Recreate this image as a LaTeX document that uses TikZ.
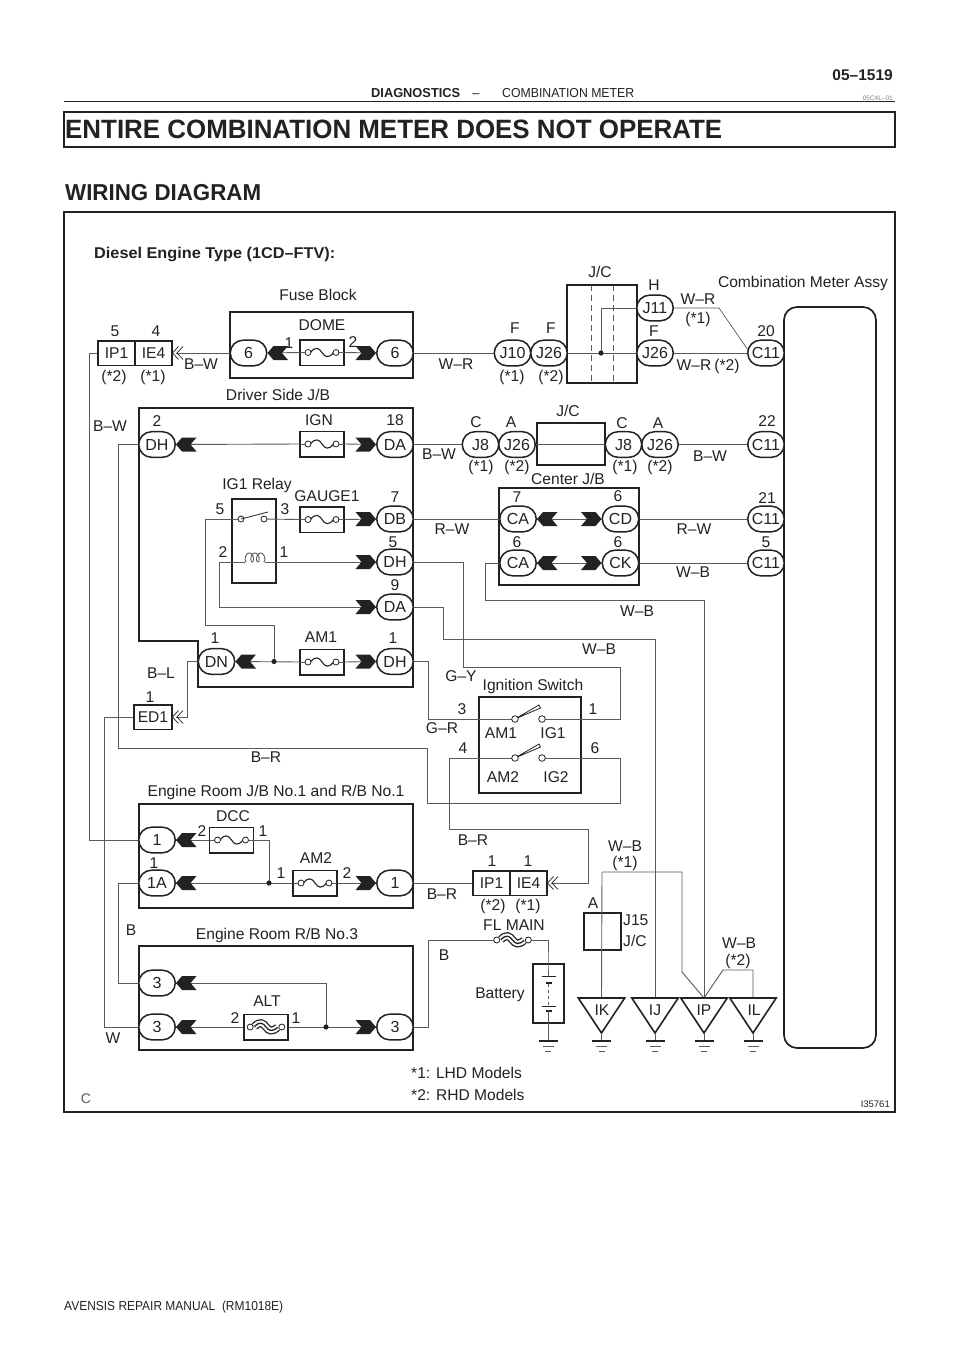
\documentclass[tikz,border=0pt]{standalone}
\usepackage{fontspec}
\setmainfont{Liberation Sans}
\definecolor{ink}{HTML}{222222}
\definecolor{wirec}{HTML}{5A5A5A}
\tikzset{
  x=1pt,y=-1pt,
  lbl/.style={inner sep=0pt,text=ink,font=\fontsize{15.6}{17}\selectfont,text height=11.3pt,text depth=0pt,anchor=center},
  lft/.style={lbl,anchor=west},
  oval/.style={draw=ink,fill=white,line width=1.5pt,rounded corners=12.8pt,minimum width=36.5pt,minimum height=25.6pt,inner sep=0pt,text=ink,font=\fontsize{16}{17}\selectfont,text height=11.5pt,text depth=0pt},
  blk/.style={draw=ink,line width=1.6pt,inner sep=0pt,fill=none},
  tag/.style={draw=ink,fill=white,line width=1.5pt,inner sep=0pt,minimum height=24.5pt,text=ink,font=\fontsize{15.6}{17}\selectfont,text height=11.3pt,text depth=0pt},
  fusebox/.style={draw=ink,fill=white,line width=1.5pt,inner sep=0pt,minimum width=44pt,minimum height=25.5pt},
  wire/.style={draw=wirec,line width=0.9pt,line join=miter},
  sym/.style={draw=ink,line width=0.8pt},
  fusesym/.pic={
    \draw[wire] (-22,0) -- (-14,0) (14,0) -- (22,0);
    \draw[draw=ink,line width=1.1pt] (-11.5,0) .. controls (-7,-6) and (-3,-5) .. (0,0) .. controls (3,5) and (7,6) .. (11.5,0);
    \draw[sym,fill=white] (-14,0) circle (3pt) (14,0) circle (3pt);
  },
  heavyfuse/.pic={
    \foreach \w/\c in {8/ink,5.4/white,1.3/ink}
      \draw[draw=\c,line width=\w pt] (-11.5,-0.5) .. controls (-6,-6) and (-3,-4) .. (0,0) .. controls (3,4) and (6,5) .. (11.5,0.5);
    \draw[sym,fill=white] (-15.8,0) circle (3pt) (15.8,0) circle (3pt);
  },
  tol/.pic={\fill[ink] (0,0) -- (6,-7) -- (20.5,-7) -- (14.5,0) -- (20.5,7) -- (6,7) -- cycle;},
  tor/.pic={\fill[ink] (0,0) -- (-6,-7) -- (-20.5,-7) -- (-14.5,0) -- (-20.5,7) -- (-6,7) -- cycle;},
  chev/.pic={\draw[sym,line width=0.7pt] (6,-6.5) -- (0,0) -- (6,6.5) (10.5,-6.5) -- (4.5,0) -- (10.5,6.5);},
  gndsym/.pic={
    \draw[draw=ink,line width=1.2pt] (-9.5,0) -- (9.5,0);
    \draw[wirec,line width=0.8pt] (-5.5,5) -- (5.5,5) (-3,10) -- (3,10);
  },
  gndtri/.pic={
    \draw[blk,line join=miter] (-23.2,0) -- (23.2,0) -- (0,35) -- cycle;
    \draw[wire] (0,35) -- (0,43);
    \pic at (0,43) {gndsym};
  },
  blade/.pic={\draw[sym,fill=white,line join=round] (0,0) -- (24,-14) -- (25.5,-11) -- cycle;},
}
\begin{document}
\begin{tikzpicture}
\useasboundingbox (0,0) rectangle (960,1358);
\fill[white] (0,0) rectangle (960,1358);

% page furniture
\node[lbl,anchor=east,font=\bfseries\fontsize{15.5}{17}\selectfont] (pageno) at (893,75) {05–1519};
\node[lbl,anchor=west,font=\bfseries\fontsize{13}{15}\selectfont,text height=9.3pt] (sect) at (371,93) {\resizebox{89pt}{\height}{DIAGNOSTICS}};
\node[lbl,font=\fontsize{13}{15}\selectfont,text height=9.3pt] (dash) at (476,93) {–};
\node[lbl,anchor=west,font=\fontsize{13}{15}\selectfont,text height=9.3pt] (subsect) at (502,93) {\resizebox{132pt}{\height}{COMBINATION METER}};
\node[lbl,anchor=east,text=gray,font=\fontsize{6.5}{8}\selectfont,text height=4.7pt] (docid) at (893,98) {05C4L–01};
\draw[draw=ink,line width=1.3pt] (64,101.5) -- (895,101.5);
\node[draw=ink,line width=1.3pt,minimum width=831pt,minimum height=35pt,inner sep=0pt] (titlebox) at (479.5,129.5) {};
\node[lbl,anchor=west,font=\bfseries\fontsize{26.5}{28}\selectfont,text height=19pt] (title) at (65,129) {\resizebox{657pt}{\height}{ENTIRE COMBINATION METER DOES NOT OPERATE}};
\node[lbl,anchor=west,font=\bfseries\fontsize{23}{25}\selectfont,text height=16.6pt] (wd) at (65,192) {\resizebox{196pt}{\height}{WIRING DIAGRAM}};
\node[draw=ink,line width=1.3pt,minimum width=831pt,minimum height=900pt,inner sep=0pt] (frame) at (479.5,662) {};
\node[lbl,anchor=west,font=\fontsize{13}{15}\selectfont,text height=9.3pt] (manual) at (64,1306) {\resizebox{219pt}{\height}{AVENSIS REPAIR MANUAL\ \ (RM1018E)}};
\node[lbl,anchor=west,font=\bfseries\fontsize{15.6}{17}\selectfont] (diesel) at (94,253) {\resizebox{241pt}{\height}{Diesel Engine Type (1CD–FTV):}};

% blocks
\node[blk,minimum width=183pt,minimum height=66pt] (fuseblock) at (321.5,345) {};
\draw[draw=ink,line width=1.6pt] (139,408) -- (413,408) -- (413,687) -- (198,687) -- (198,641) -- (139,641) -- cycle;
\node[blk,minimum width=102pt,minimum height=96pt] (ignsw) at (530,745) {};
\node[blk,minimum width=274pt,minimum height=104pt] (erjb) at (276,856) {};
\node[blk,minimum width=274pt,minimum height=104pt] (errb) at (276,998) {};
\node[blk,minimum width=140pt,minimum height=97pt] (cjb) at (569,536.5) {};
\node[blk,minimum width=70pt,minimum height=98pt] (jc1) at (602,334) {};
\node[blk,minimum width=68pt,minimum height=42pt] (jc2) at (571,444) {};
\node[blk,minimum width=44pt,minimum height=84pt] (relay) at (254,541) {};
\node[blk,minimum width=37pt,minimum height=37pt] (j15) at (602.5,931.5) {};
\node[blk,minimum width=31pt,minimum height=59pt] (batt) at (548.5,993.5) {};
\node[draw=ink,line width=1.7pt,minimum width=92pt,minimum height=741pt,rounded corners=13pt,inner sep=0pt] (meter) at (830,677.5) {};
\draw[wirec,line width=0.8pt,dashed,dash pattern=on 6pt off 4pt] (591,285) -- (591,383) (613,285) -- (613,383);

% connectors
\node[oval] (fb6l) at (248.5,353) {6};
\node[oval] (fb6r) at (395,353) {6};
\node[oval] (j10) at (512.5,353) {J10};
\node[oval] (j26a) at (549,353) {J26};
\node[oval] (j26b) at (655,353) {J26};
\node[oval] (j11) at (655,308) {J11};
\node[oval] (c20) at (766,353) {C11};
\node[oval] (dh2) at (157,444.5) {DH};
\node[oval] (da18) at (395,444.5) {DA};
\node[oval] (j8a) at (480.5,444.5) {J8};
\node[oval] (j26c) at (517,444.5) {J26};
\node[oval] (j8b) at (623.5,444.5) {J8};
\node[oval] (j26d) at (660,444.5) {J26};
\node[oval] (c22) at (766,444.5) {C11};
\node[oval] (db7) at (395,519) {DB};
\node[oval] (ca7) at (518,519) {CA};
\node[oval] (cd6) at (620.5,519) {CD};
\node[oval] (c21) at (766,519) {C11};
\node[oval] (dh5) at (395,562) {DH};
\node[oval] (ca6) at (518,563) {CA};
\node[oval] (ck6) at (620.5,563) {CK};
\node[oval] (c5) at (766,563) {C11};
\node[oval] (da9) at (395,607) {DA};
\node[oval] (dn1) at (216.5,661.5) {DN};
\node[oval] (dh1) at (395,661.5) {DH};
\node[oval] (e1) at (157,840) {1};
\node[oval] (e1a) at (157,883) {1A};
\node[oval] (e1r) at (395,883) {1};
\node[oval] (r3a) at (157,983) {3};
\node[oval] (r3b) at (157,1027) {3};
\node[oval] (r3c) at (395,1027) {3};

% fuses
\node[fusebox] (dome) at (322,352.5) {};
\node[fusebox] (ign) at (322,444) {};
\node[fusebox] (gauge) at (322,519.5) {};
\node[fusebox] (am1f) at (322,662) {};
\node[fusebox] (dcc) at (231.5,840) {};
\node[fusebox] (am2f) at (315,883) {};
\node[fusebox] (alt) at (266,1027) {};
\pic at (dome) {fusesym};
\pic at (ign) {fusesym};
\pic at (gauge) {fusesym};
\pic at (am1f) {fusesym};
\pic at (dcc) {fusesym};
\pic at (am2f) {fusesym};
\pic at (alt) {heavyfuse};
\coordinate (flmain) at (512.5,940);

% tags
\node[tag,minimum width=37pt] (ip1a) at (116.5,353) {IP1};
\node[tag,minimum width=37pt] (ie4a) at (153.5,353) {IE4};
\node[tag,minimum width=38pt] (ed1) at (153,717) {ED1};
\node[tag,minimum width=37pt] (ip1b) at (491.5,883) {IP1};
\node[tag,minimum width=37pt] (ie4b) at (528.5,883) {IE4};

% named free ends
\coordinate (chA) at (176,353);
\coordinate (chB) at (176,717);
\coordinate (chC) at (551,883);
\coordinate (relayNO) at (241,519);
\coordinate (relayNC) at (264,519);
\coordinate (coilL) at (245,562);
\coordinate (coilR) at (265,562);
\coordinate (sw1a) at (515,719);
\coordinate (sw1b) at (542,719);
\coordinate (sw2a) at (515,758);
\coordinate (sw2b) at (542,758);
\coordinate (jdot) at (601,353);
\coordinate (am1dot) at (274,661.5);
\coordinate (dccdot) at (269,883);
\coordinate (altdot) at (326,1027);
\coordinate (flL) at (497,940);
\coordinate (flR) at (528,940);
\coordinate (batTop) at (548,976);
\coordinate (batBot) at (548,1041);
\coordinate (tIK) at (601.5,998);
\coordinate (tIJ) at (655,998);
\coordinate (tIP) at (704,998);
\coordinate (tIL) at (753,998);

% wires
\draw[wire] (fb6l.east) -- (dome.west);
\draw[wire] (dome.east) -- (fb6r.west);
\draw[wire] (fb6l.west) -- (chA);
\draw[wire] (ip1a.west) -- (89,353) -- (89,840) -- (e1.west);
\draw[wire] (fb6r.east) -- (j10.west);
\draw[wire] (j26a.east) -- (j26b.west);
\draw[wire] (jdot) -- (601,308) -- (j11.west);
\draw[wire] (j26b.east) -- (c20.west);
\draw[wire,line width=0.7pt] (j11.east) -- (719,308) -- (748,350);
\draw[wire] (dh2.east) -- (ign.west);
\draw[wire] (ign.east) -- (da18.west);
\draw[wire] (da18.east) -- (j8a.west);
\draw[wire] (j26c.east) -- (j8b.west);
\draw[wire] (j26d.east) -- (c22.west);
\draw[wire] (relayNC) -- (gauge.west);
\draw[wire] (gauge.east) -- (db7.west);
\draw[wire] (db7.east) -- (ca7.west);
\draw[wire] (ca7.east) -- (cd6.west);
\draw[wire] (cd6.east) -- (c21.west);
\draw[wire] (ca6.east) -- (ck6.west);
\draw[wire] (ck6.east) -- (c5.west);
\draw[wire] (relayNO) -- (205,519) -- (205,625) -- (274,625) -- (am1dot);
\draw[wire] (coilR) -- (dh5.west);
\draw[wire] (coilL) -- (219,562) -- (219,607) -- (da9.west);
\draw[wire] (dn1.east) -- (am1f.west);
\draw[wire] (am1f.east) -- (dh1.west);
\draw[wire] (dn1.west) -- (187,661.5) -- (187,717) -- (chB);
\draw[wire] (ed1.west) -- (104,717) -- (104,1027) -- (r3b.west);
\draw[wire] (dh5.east) -- (463.5,562) -- (463.5,667) -- (620,667) -- (620,719) -- (sw1b);
\draw[wire] (dh1.east) -- (428,661.5) -- (428,719) -- (sw1a);
\draw[wire] (da9.east) -- (443,607) -- (443,639) -- (655,639) -- (tIJ);
\draw[wire] (ca6.west) -- (485,563) -- (485,600) -- (704,600) -- (tIP);
\draw[wire] (dh2.west) -- (118,444.5) -- (118,748) -- (427.5,748) -- (427.5,803) -- (620,803) -- (620,758) -- (sw2b);
\draw[wire] (sw2a) -- (449,758) -- (449,829) -- (588,829) -- (588,883) -- (chC);
\draw[wire] (e1.east) -- (dcc.west);
\draw[wire] (dcc.east) -- (269,840) -- (dccdot);
\draw[wire] (e1a.east) -- (am2f.west);
\draw[wire] (am2f.east) -- (e1r.west);
\draw[wire] (e1r.east) -- (ip1b.west);
\draw[wire] (e1a.west) -- (118,883) -- (118,983) -- (r3a.west);
\draw[wire] (r3a.east) -- (326,983) -- (altdot);
\draw[wire] (r3b.east) -- (alt.west);
\draw[wire] (alt.east) -- (r3c.west);
\draw[wire] (r3c.east) -- (428,1027) -- (428,940) -- (flL);
\draw[wire] (flR) -- (548,940) -- (548,964) -- (batTop);
\draw[wire] (602,872) -- (tIK);
\draw[wire] (602,872) -- (682,872) -- (682,972) -- (tIP);
\draw[wire] (tIP) -- (723,970) -- (753,970) -- (tIL);

% switch contacts
\draw[sym,fill=white] (relayNO) circle (3pt) (relayNC) circle (3pt);
\draw[sym] (relayNO) -- (268,512);
\draw[wire,samples=70,smooth,domain=0:1080] plot ({246.5+\x/63.5-2.6*sin(\x)},{562-5+5*cos(\x)*0.9+0.5});
\pic at (sw1a) {blade};
\pic at (sw2a) {blade};
\draw[sym,fill=white] (sw1a) circle (3.3pt) (sw1b) circle (3.3pt) (sw2a) circle (3.3pt) (sw2b) circle (3.3pt);
\pic at (flmain) {heavyfuse};

% battery
\draw[draw=ink,line width=1pt] (541.5,976) -- (555.5,976) (541.5,1006) -- (555.5,1006);
\draw[draw=ink,line width=2pt] (545.5,983) -- (551.5,983) (545.5,1011) -- (551.5,1011);
\draw[wirec,line width=0.7pt,dash pattern=on 3pt off 3pt] (548,984) -- (548,1005);
\draw[wire] (548,1011) -- (batBot);
\pic at (batBot) {gndsym};

% ground triangles
\pic at (tIK) {gndtri};
\pic at (tIJ) {gndtri};
\pic at (tIP) {gndtri};
\pic at (tIL) {gndtri};
\node[lbl] (gIK) at (602,1010) {IK};
\node[lbl] (gIJ) at (655,1010) {IJ};
\node[lbl] (gIP) at (704,1010) {IP};
\node[lbl] (gIL) at (754,1010) {IL};

% dots
\fill[ink] (jdot) circle (2.6pt) (am1dot) circle (2.6pt) (dccdot) circle (2.6pt) (altdot) circle (2.6pt);

% terminal arrows
\pic at (fb6l.east) {tol};
\pic at (fb6r.west) {tor};
\pic at (dh2.east) {tol};
\pic at (da18.west) {tor};
\pic at (db7.west) {tor};
\pic at (ca7.east) {tol};
\pic at (cd6.west) {tor};
\pic at (ca6.east) {tol};
\pic at (ck6.west) {tor};
\pic at (dh5.west) {tor};
\pic at (da9.west) {tor};
\pic at (dn1.east) {tol};
\pic at (dh1.west) {tor};
\pic at (e1.east) {tol};
\pic at (e1a.east) {tol};
\pic at (e1r.west) {tor};
\pic at (r3a.east) {tol};
\pic at (r3b.east) {tol};
\pic at (r3c.west) {tor};
\pic at (172.5,353) {chev};
\pic at (172.5,717) {chev};
\pic at (547.5,883) {chev};

% labels
\node[lbl] (pFB) at (318,295) {Fuse Block};
\node[lbl] (pDome) at (322,325) {DOME};
\node[lbl] (a1) at (289,343) {1};
\node[lbl] (a2) at (353,342) {2};
\node[lbl] (a3) at (115,331) {5};
\node[lbl] (a4) at (156,331) {4};
\node[lbl] (a5) at (114,376) {(*2)};
\node[lbl] (a6) at (153,376) {(*1)};
\node[lbl] (a7) at (201,364) {B–W};
\node[lbl] (a8) at (456,364) {W–R};
\node[lbl] (a9) at (110,426) {B–W};
\node[lbl] (pDS) at (278,395) {Driver Side J/B};
\node[lbl] (b1) at (157,421) {2};
\node[lbl] (pIGN) at (319,420) {IGN};
\node[lbl] (b2) at (395,420) {18};
\node[lbl] (b3) at (439,454) {B–W};
\node[lbl] (b4) at (476,422) {C};
\node[lbl] (b5) at (511,422) {A};
\node[lbl] (b6) at (481,466) {(*1)};
\node[lbl] (b7) at (517,466) {(*2)};
\node[lbl] (pJC2) at (568,411) {J/C};
\node[lbl] (b8) at (622,423) {C};
\node[lbl] (b9) at (658,423) {A};
\node[lbl] (b10) at (625,466) {(*1)};
\node[lbl] (b11) at (660,466) {(*2)};
\node[lbl] (b12) at (767,421) {22};
\node[lbl] (b13) at (710,456) {B–W};
\node[lbl] (pJC1) at (600,272) {J/C};
\node[lbl] (c1) at (654,285) {H};
\node[lbl] (c2) at (654,331) {F};
\node[lbl] (c3) at (515,328) {F};
\node[lbl] (c4) at (551,328) {F};
\node[lbl] (c5t) at (512,376) {(*1)};
\node[lbl] (c6) at (551,376) {(*2)};
\node[lbl] (c7) at (698,299) {W–R};
\node[lbl] (c8) at (698,318) {(*1)};
\node[lbl] (c9) at (694,365) {W–R};
\node[lbl] (c10) at (727,365) {(*2)};
\node[lbl] (c11) at (766,331) {20};
\node[lbl] (pMeter) at (803,282) {Combination Meter Assy};
\node[lbl] (pCJB) at (568,479) {Center J/B};
\node[lbl] (d1) at (517,497) {7};
\node[lbl] (d2) at (618,496) {6};
\node[lbl] (d3) at (767,498) {21};
\node[lbl] (d4) at (452,529) {R–W};
\node[lbl] (d5) at (694,529) {R–W};
\node[lbl] (d6) at (517,542) {6};
\node[lbl] (d7) at (618,542) {6};
\node[lbl] (d8) at (766,542) {5};
\node[lbl] (d9) at (693,572) {W–B};
\node[lbl] (d10) at (637,611) {W–B};
\node[lbl] (d11) at (599,649) {W–B};
\node[lbl] (pRelay) at (257,484) {IG1 Relay};
\node[lbl] (pGauge) at (327,496) {GAUGE1};
\node[lbl] (e1t) at (220,509) {5};
\node[lbl] (e2t) at (285,509) {3};
\node[lbl] (e3t) at (395,497) {7};
\node[lbl] (e4t) at (393,542) {5};
\node[lbl] (e5t) at (223,552) {2};
\node[lbl] (e6t) at (284,552) {1};
\node[lbl] (e7t) at (395,585) {9};
\node[lbl] (pAM1) at (321,637) {AM1};
\node[lbl] (e8t) at (215,638) {1};
\node[lbl] (e9t) at (393,638) {1};
\node[lbl] (e10t) at (161,673) {B–L};
\node[lbl] (e11t) at (150,697) {1};
\node[lbl] (f1) at (461,676) {G–Y};
\node[lbl] (pIgn) at (533,685) {Ignition Switch};
\node[lbl] (f2) at (462,709) {3};
\node[lbl] (f3) at (593,709) {1};
\node[lbl] (f4) at (442,728) {G–R};
\node[lbl] (f5) at (501,733) {AM1};
\node[lbl] (f6) at (553,733) {IG1};
\node[lbl] (f7) at (463,748) {4};
\node[lbl] (f8) at (595,748) {6};
\node[lbl] (f9) at (503,777) {AM2};
\node[lbl] (f10) at (556,777) {IG2};
\node[lbl] (f11) at (266,757) {B–R};
\node[lbl] (pER1) at (276,791) {Engine Room J/B No.1 and R/B No.1};
\node[lbl] (pDCC) at (233,816) {DCC};
\node[lbl] (g1) at (202,831) {2};
\node[lbl] (g2) at (263,831) {1};
\node[lbl] (g3) at (154,863) {1};
\node[lbl] (pAM2) at (316,858) {AM2};
\node[lbl] (g4) at (281,873) {1};
\node[lbl] (g5) at (347,873) {2};
\node[lbl] (g6) at (473,840) {B–R};
\node[lbl] (g7) at (442,894) {B–R};
\node[lbl] (g8) at (492,861) {1};
\node[lbl] (g9) at (528,861) {1};
\node[lbl] (g10) at (493,905) {(*2)};
\node[lbl] (g11) at (528,905) {(*1)};
\node[lbl] (g12) at (625,846) {W–B};
\node[lbl] (g13) at (625,862) {(*1)};
\node[lbl] (g14) at (131,930) {B};
\node[lbl] (pER3) at (277,934) {Engine Room R/B No.3};
\node[lbl] (pFL) at (514,925) {FL MAIN};
\node[lbl] (g15) at (444,955) {B};
\node[lbl] (g16) at (593,903) {A};
\node[lbl,anchor=west] (g17) at (623,920) {J15};
\node[lbl,anchor=west] (g18) at (623,941) {J/C};
\node[lbl] (g19) at (739,943) {W–B};
\node[lbl] (g20) at (738,960) {(*2)};
\node[lbl] (pBatt) at (500,993) {Battery};
\node[lbl] (pALT) at (267,1001) {ALT};
\node[lbl] (g21) at (235,1018) {2};
\node[lbl] (g22) at (296,1018) {1};
\node[lbl] (g23) at (113,1038) {W};
\node[lft] (n1) at (411,1073) {*1: LHD Models};
\node[lft] (n2) at (411,1095) {*2: RHD Models};
\node[lbl,text=ink!75,font=\fontsize{14}{16}\selectfont,text height=10pt] (cmark) at (86,1098) {C};
\node[lbl,anchor=east,font=\fontsize{9.5}{11}\selectfont,text height=6.9pt] (figid) at (890,1104) {I35761};
\end{tikzpicture}
\end{document}
